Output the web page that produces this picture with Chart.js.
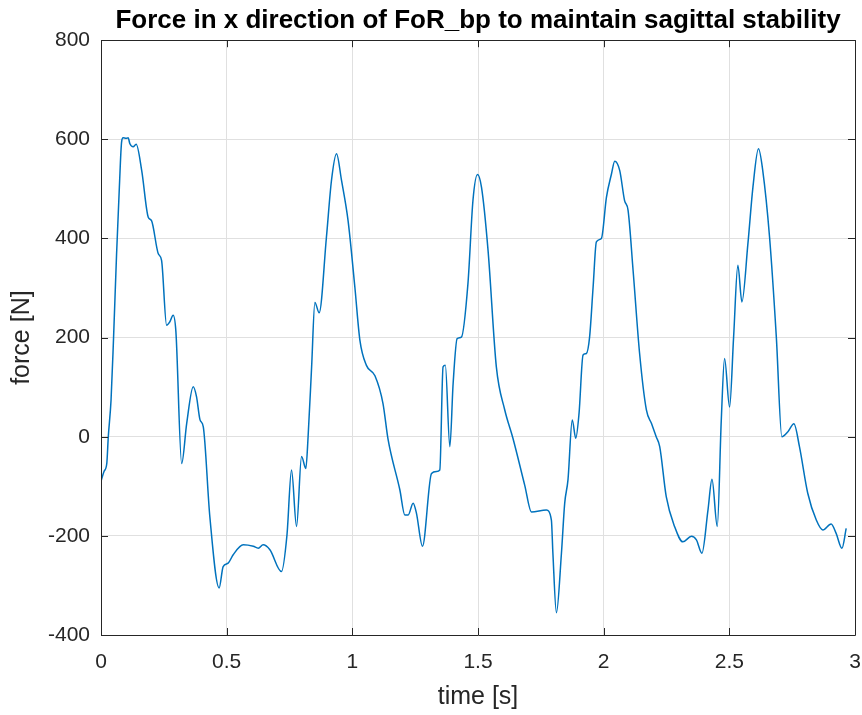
<!DOCTYPE html>
<html>
<head>
<meta charset="utf-8">
<title>Force in x direction</title>
<script src="https://cdn.jsdelivr.net/npm/chart.js@4.4.1/dist/chart.umd.min.js"></script>
<style>
  html, body { margin: 0; padding: 0; background: #fff; }
  #wrap { width: 862px; height: 715px; }
</style>
</head>
<body>
<div id="wrap"><canvas id="forceChart" width="862" height="715"></canvas></div>
<script>
// sampled force trace of FoR_bp, x direction
const timeS = [
  0.000, 0.012, 0.023, 0.029, 0.040, 0.050, 0.062, 0.073, 0.082, 0.088,
  0.100, 0.108, 0.115, 0.128, 0.140, 0.162, 0.188, 0.201, 0.228, 0.241,
  0.261, 0.274, 0.287, 0.298, 0.321, 0.341, 0.367, 0.380, 0.394, 0.407,
  0.433, 0.470, 0.486, 0.506, 0.526, 0.566, 0.606, 0.626, 0.645, 0.672,
  0.718, 0.740, 0.758, 0.778, 0.798, 0.815, 0.824, 0.838, 0.851, 0.868,
  0.897, 0.917, 0.937, 0.957, 0.983, 1.010, 1.030, 1.056, 1.090, 1.122,
  1.142, 1.189, 1.209, 1.222, 1.242, 1.255, 1.279, 1.315, 1.335, 1.348,
  1.361, 1.370, 1.388, 1.401, 1.417, 1.434, 1.460, 1.480, 1.498, 1.514,
  1.540, 1.573, 1.606, 1.639, 1.686, 1.713, 1.772, 1.792, 1.798, 1.812,
  1.832, 1.845, 1.858, 1.875, 1.889, 1.902, 1.918, 1.931, 1.944, 1.958,
  1.971, 1.991, 2.011, 2.031, 2.044, 2.064, 2.083, 2.097, 2.117, 2.143,
  2.170, 2.190, 2.209, 2.223, 2.249, 2.282, 2.315, 2.349, 2.369, 2.391,
  2.415, 2.431, 2.452, 2.468, 2.481, 2.501, 2.517, 2.534, 2.550, 2.574,
  2.594, 2.616, 2.633, 2.660, 2.687, 2.709, 2.733, 2.757, 2.779, 2.812,
  2.846, 2.872, 2.905, 2.925, 2.948, 2.965
];
const forceN = [
  -90, -70, -54, 0, 74, 200, 369, 503, 595, 603,
  602, 603, 591, 585, 590, 537, 443, 436, 369, 356,
  225, 232, 245, 212, -54, 27, 101, 81, 34, 20,
  -161, -305, -262, -255, -238, -218, -221, -225, -218, -228,
  -272, -198, -67, -181, -40, -64, 0, 141, 271, 250,
  403, 517, 571, 517, 436, 302, 195, 144, 123, 67,
  -5, -107, -158, -158, -134, -154, -221, -74, -70, -67,
  141, 144, -20, 107, 198, 201, 309, 477, 529, 503,
  376, 141, 55, -3, -98, -152, -148, -168, -235, -355,
  -235, -134, -87, 34, -3, 47, 165, 168, 201, 302,
  393, 400, 483, 530, 556, 537, 477, 457, 336, 168,
  54, 27, 0, -20, -121, -181, -212, -201, -208, -235,
  -148, -86, -181, 34, 158, 60, 201, 346, 272, 390,
  504, 581, 537, 403, 201, 0, 10, 26, -20, -114,
  -168, -188, -176, -195, -225, -185
];

const xTicks = [0, 0.5, 1, 1.5, 2, 2.5, 3];
const yTicks = [-400, -200, 0, 200, 400, 600, 800];

const FONT = "'Liberation Sans', Arial, Helvetica, sans-serif";
const AXIS_COLOR = '#262626';

// box around the plot area with inward tick marks on all four sides
const axesBox = {
  id: 'axesBox',
  afterDraw(chart) {
    const { ctx, chartArea: a, scales } = chart;
    const len = 7;
    ctx.save();
    ctx.strokeStyle = AXIS_COLOR;
    ctx.lineWidth = 1;
    ctx.beginPath();
    ctx.rect(Math.round(a.left) + 0.5, Math.round(a.top) + 0.5,
             Math.round(a.right - a.left), Math.round(a.bottom - a.top));
    xTicks.forEach((t) => {
      const x = Math.round(scales.x.getPixelForValue(t)) + 0.5;
      ctx.moveTo(x, a.bottom); ctx.lineTo(x, a.bottom - len);
      ctx.moveTo(x, a.top); ctx.lineTo(x, a.top + len);
    });
    yTicks.forEach((v) => {
      const y = Math.round(scales.y.getPixelForValue(v)) + 0.5;
      ctx.moveTo(a.left, y); ctx.lineTo(a.left + len, y);
      ctx.moveTo(a.right, y); ctx.lineTo(a.right - len, y);
    });
    ctx.stroke();
    ctx.restore();
  }
};

const points = timeS.map((t, i) => ({ x: t, y: forceN[i] }));

new Chart(document.getElementById('forceChart'), {
  type: 'line',
  data: {
    datasets: [{
      data: points,
      borderColor: '#0072BD',
      borderWidth: 1.5,
      pointRadius: 0,
      fill: false,
      cubicInterpolationMode: 'monotone'
    }]
  },
  options: {
    responsive: false,
    animation: false,
    layout: { padding: { left: 0, right: 7, top: 0, bottom: 0 } },
    plugins: {
      legend: { display: false },
      tooltip: { enabled: false },
      title: {
        display: true,
        fullSize: false,
        text: 'Force in x direction of FoR_bp to maintain sagittal stability',
        color: '#000',
        font: { family: FONT, size: 26, weight: 'bold' },
        padding: { top: 5, bottom: 4 }
      }
    },
    scales: {
      x: {
        type: 'linear',
        min: 0,
        max: 3,
        afterBuildTicks(scale) { scale.ticks = xTicks.map((v) => ({ value: v })); },
        afterFit(scale) {
          scale.height = 80;
          scale.paddingLeft = 0;
          scale.paddingRight = 0;
        },
        grid: { color: '#e0e0e0', drawTicks: false },
        border: { display: false },
        ticks: {
          color: AXIS_COLOR,
          padding: 15,
          maxRotation: 0,
          font: { family: FONT, size: 21 },
          callback: (v) => String(v)
        },
        title: {
          display: true,
          text: 'time [s]',
          color: AXIS_COLOR,
          font: { family: FONT, size: 25 },
          padding: { top: 0, bottom: 3 }
        }
      },
      y: {
        min: -400,
        max: 800,
        afterBuildTicks(scale) { scale.ticks = yTicks.map((v) => ({ value: v })); },
        afterFit(scale) {
          scale.width = 101;
          scale.paddingTop = 0;
          scale.paddingBottom = 0;
        },
        grid: { color: '#e0e0e0', drawTicks: false },
        border: { display: false },
        ticks: {
          color: AXIS_COLOR,
          padding: 11,
          font: { family: FONT, size: 21 },
          callback: (v) => String(v)
        },
        title: {
          display: true,
          text: 'force [N]',
          color: AXIS_COLOR,
          font: { family: FONT, size: 25 },
          padding: { top: 7, bottom: 0 }
        }
      }
    }
  },
  plugins: [axesBox]
});
</script>
</body>
</html>
